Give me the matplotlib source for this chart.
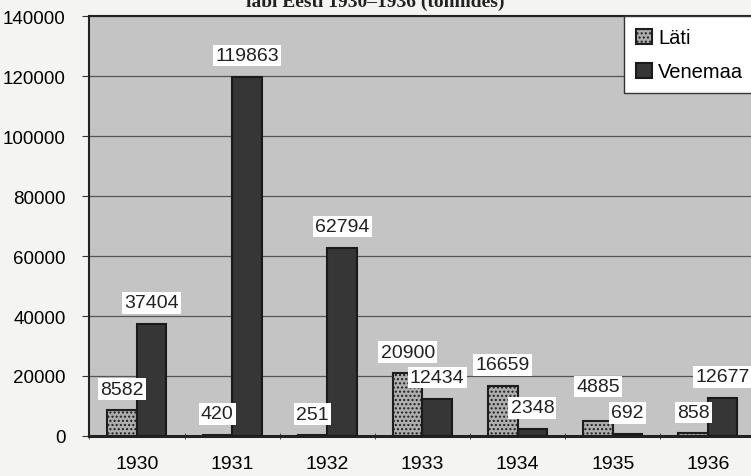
import matplotlib.pyplot as plt
import numpy as np

years = ["1930", "1931", "1932", "1933", "1934", "1935", "1936"]
lati = [8582, 420, 251, 20900, 16659, 4885, 858]
venemaa = [37404, 119863, 62794, 12434, 2348, 692, 12677]

plt.rcParams["font.family"] = ["Liberation Sans", "DejaVu Sans"]

fig = plt.figure(figsize=(7.51, 4.77), dpi=100)
fig.patch.set_facecolor("#f4f4f2")
ax = fig.add_axes([0.119, 0.084, 0.887, 0.880])
ax.set_facecolor("#c4c4c4")

x = np.arange(len(years))
w = 0.31
b1 = ax.bar(x - w / 2, lati, w, color="#aeaeae", edgecolor="#1e1e1e", linewidth=1.5,
            hatch="....", label="Läti", zorder=3)
b2 = ax.bar(x + w / 2, venemaa, w, color="#363636", edgecolor="#1a1a1a", linewidth=1.5,
            label="Venemaa", zorder=3)

for bars in (b1, b2):
    for r in bars:
        dy = 9
        # the 1935 Läti label sits higher so it clears the 692 label
        if bars is b1 and r is b1[5]:
            dy = 19
        ax.annotate(f"{int(r.get_height())}", (r.get_x() + r.get_width() / 2, r.get_height()),
                    xytext=(0, dy), textcoords="offset points", ha="center", va="bottom",
                    fontsize=14, color="#222222", zorder=5,
                    bbox=dict(boxstyle="square,pad=0.12", fc="white", ec="none"))

ax.set_ylim(0, 140000)
ax.set_xlim(-0.5, len(years) - 0.5)
ax.set_yticks(range(0, 140001, 20000))
ax.set_xticks(x)
ax.set_xticklabels(years)
ax.set_xticks(np.arange(-0.5, len(years), 1), minor=True)
ax.tick_params(axis="x", which="major", length=0, pad=14, labelsize=14)
ax.tick_params(axis="x", which="minor", length=4, direction="inout", color="#333333")
ax.tick_params(axis="y", length=5, labelsize=13.5, pad=12, color="#333333")
ax.grid(axis="y", color="#555555", linewidth=0.9, zorder=1)
for s in ax.spines.values():
    s.set_color("#222222")
    s.set_linewidth(1.5)
ax.spines["bottom"].set_linewidth(2.2)

leg = ax.legend(loc="upper right", fontsize=14.5, frameon=True, fancybox=False,
                borderaxespad=0, handlelength=0.8, handleheight=0.8, handletextpad=0.3,
                labelspacing=0.75, borderpad=0.6)
leg.get_frame().set_edgecolor("#333333")
leg.get_frame().set_facecolor("white")
leg.get_frame().set_alpha(1)

fig.text(0.5, 0.986, "läbi Eesti 1930–1936 (tonnides)", ha="center", va="baseline",
         fontsize=14, fontweight="bold", family="Liberation Serif", color="#222222")

fig.savefig("out.png", dpi=100, facecolor=fig.get_facecolor())
